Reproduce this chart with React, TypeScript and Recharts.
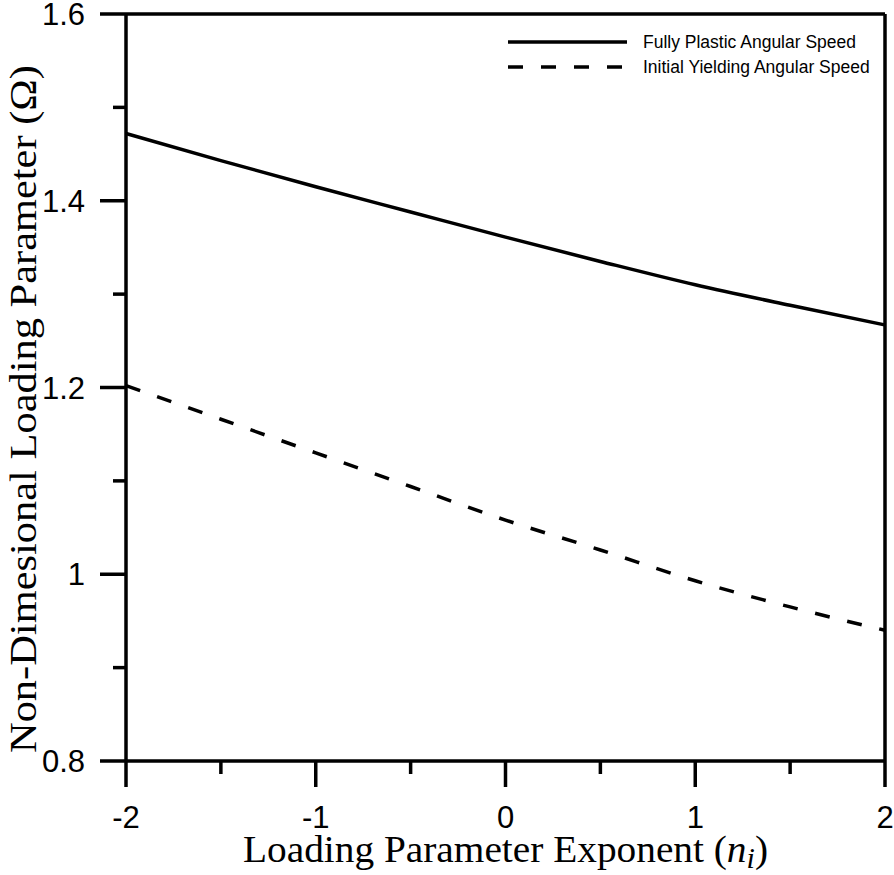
import React from 'react';
import { LineChart, Line, XAxis, YAxis, ReferenceLine, Legend } from 'recharts';

const xValues = [-2, -1.5, -1, -0.5, 0, 0.5, 1, 1.5, 2];
const fullyPlastic = [1.472, 1.443, 1.415, 1.388, 1.361, 1.335, 1.310, 1.288, 1.267];
const initialYielding = [1.202, 1.166, 1.130, 1.094, 1.058, 1.026, 0.993, 0.965, 0.940];

const xTicks = [-2, -1.5, -1, -0.5, 0, 0.5, 1, 1.5, 2];
const xMajor = [-2, -1, 0, 1, 2];
const xLabels = ['-2', '-1', '0', '1', '2'];
const yTicks = [0.8, 0.9, 1.0, 1.1, 1.2, 1.3, 1.4, 1.5, 1.6];
const yMajor = [0.8, 1.0, 1.2, 1.4, 1.6];
const yLabels = ['0.8', '1', '1.2', '1.4', '1.6'];

const seriesNames = ['Fully Plastic Angular Speed', 'Initial Yielding Angular Speed'];

const data = xValues.map((x, i) => ({ x, fp: fullyPlastic[i], iy: initialYielding[i] }));

const SANS = '"Liberation Sans", Arial, sans-serif';
const SERIF = '"Liberation Serif", "Times New Roman", serif';
const STROKE = 3.5;

const findMajor = (v: number, majors: number[]) => majors.findIndex((m) => Math.abs(m - v) < 1e-6);

const YTick = (props: any) => {
  const { x, y, payload } = props;
  const idx = findMajor(payload.value, yMajor);
  const major = idx >= 0;
  return (
    <g>
      <line x1={x} y1={y} x2={x - (major ? 26 : 13)} y2={y} stroke="#000" strokeWidth={STROKE} />
      {major && (
        <text x={x - 41} y={y + 11} textAnchor="end" fontFamily={SANS} fontSize={31} fill="#000">
          {yLabels[idx]}
        </text>
      )}
    </g>
  );
};

const XTick = (props: any) => {
  const { x, y, payload } = props;
  const idx = findMajor(payload.value, xMajor);
  const major = idx >= 0;
  return (
    <g>
      <line x1={x} y1={y} x2={x} y2={y + (major ? 26 : 13)} stroke="#000" strokeWidth={STROKE} />
      {major && (
        <text x={x} y={y + 67} textAnchor="middle" fontFamily={SANS} fontSize={31} fill="#000">
          {xLabels[idx]}
        </text>
      )}
    </g>
  );
};

const XTitle = (props: any) => {
  const vb = props.viewBox;
  return (
    <text
      x={vb.x + vb.width / 2}
      y={vb.y + 101}
      textAnchor="middle"
      fontFamily={SERIF}
      fontSize={38}
      fill="#000"
      textLength={525}
      lengthAdjust="spacingAndGlyphs"
    >
      Loading Parameter Exponent (<tspan fontStyle="italic">n</tspan>
      <tspan fontStyle="italic" fontSize={29} dy={6}>i</tspan>
      <tspan dy={-6}>)</tspan>
    </text>
  );
};

const YTitle = () => {
  const cx = 36;
  const cy = 409;
  return (
    <text
      x={cx}
      y={cy}
      transform={`rotate(-90 ${cx} ${cy})`}
      textAnchor="middle"
      fontFamily={SERIF}
      fontSize={38}
      fill="#000"
      textLength={688}
      lengthAdjust="spacingAndGlyphs"
    >
      Non-Dimesional Loading Parameter (Ω)
    </text>
  );
};

const LegendBox = () => (
  <svg width={380} height={60} style={{ display: 'block', overflow: 'visible' }}>
    <line x1={8} y1={14} x2={127} y2={14} stroke="#000" strokeWidth={STROKE} />
    <text x={143} y={20} fontFamily={SANS} fontSize={17.5} fill="#000">
      {seriesNames[0]}
    </text>
    <line x1={8} y1={39} x2={127} y2={39} stroke="#000" strokeWidth={STROKE} strokeDasharray="15 18" />
    <text x={143} y={45} fontFamily={SANS} fontSize={17.5} fill="#000">
      {seriesNames[1]}
    </text>
  </svg>
);

export default function App() {
  return (
    <div style={{ position: 'absolute', left: 0, top: 0, width: 894, height: 875, background: '#fff' }}>
      <LineChart width={894} height={875} data={data} margin={{ top: 14, right: 9, bottom: 0, left: 0 }}>
        <XAxis
          dataKey="x"
          type="number"
          domain={[-2, 2]}
          ticks={xTicks}
          interval={0}
          tickSize={0}
          tickMargin={0}
          tickLine={false}
          tick={<XTick />}
          axisLine={{ stroke: '#000', strokeWidth: STROKE }}
          height={114}
          label={<XTitle />}
        />
        <YAxis
          type="number"
          domain={[0.8, 1.6]}
          ticks={yTicks}
          interval={0}
          tickSize={0}
          tickMargin={0}
          tickLine={false}
          tick={<YTick />}
          axisLine={{ stroke: '#000', strokeWidth: STROKE }}
          width={126}
          label={<YTitle />}
        />
        <ReferenceLine y={1.6} stroke="#000" strokeWidth={STROKE} ifOverflow="visible" />
        <ReferenceLine x={2} stroke="#000" strokeWidth={STROKE} ifOverflow="visible" />
        <Legend
          layout="horizontal"
          verticalAlign="middle"
          align="center"
          wrapperStyle={{ top: 28, left: 500, width: 380 }}
          content={() => <LegendBox />}
        />
        <Line
          dataKey="fp"
          name={seriesNames[0]}
          type="monotone"
          stroke="#000"
          strokeWidth={STROKE}
          dot={false}
          activeDot={false}
          isAnimationActive={false}
        />
        <Line
          dataKey="iy"
          name={seriesNames[1]}
          type="monotone"
          stroke="#000"
          strokeWidth={STROKE}
          strokeDasharray="15 18"
          dot={false}
          activeDot={false}
          isAnimationActive={false}
        />
      </LineChart>
    </div>
  );
}
